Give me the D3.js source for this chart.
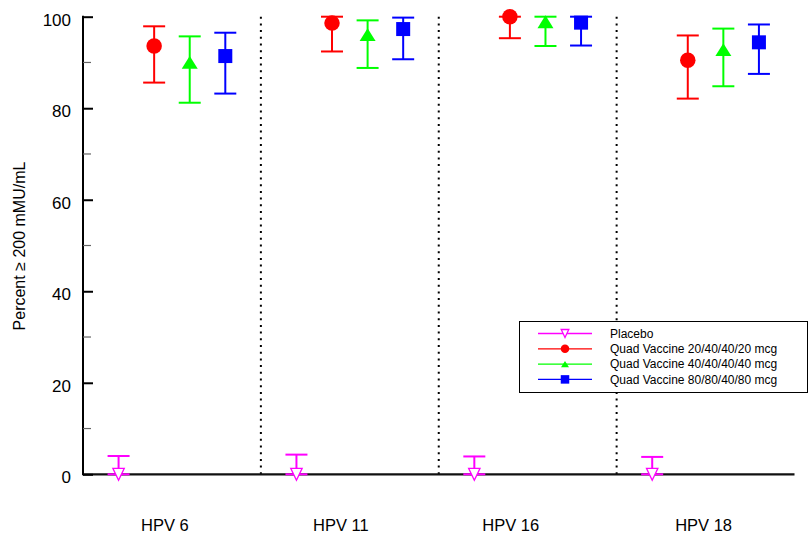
<!DOCTYPE html>
<html>
<head>
<meta charset="utf-8">
<script src="https://cdn.jsdelivr.net/npm/d3@7"></script>
<style>
  html, body { margin: 0; padding: 0; background: #fff; }
  svg { display: block; font-family: "Liberation Sans", Arial, sans-serif; }
</style>
</head>
<body>
<svg id="chart" width="810" height="535"></svg>
<script>
// ---- data ----
const categories = ["HPV 6", "HPV 11", "HPV 16", "HPV 18"];
const seriesNames = [
  "Placebo",
  "Quad Vaccine 20/40/40/20 mcg",
  "Quad Vaccine 40/40/40/40 mcg",
  "Quad Vaccine 80/80/40/80 mcg"
];
const placeboValue = [0, 0, 0, 0];
const placeboLower = [0, 0, 0, 0];
const placeboUpper = [4.0, 4.3, 3.9, 3.8];
const dose20Value = [93.6, 98.6, 100, 90.5];
const dose20Lower = [85.6, 92.4, 95.3, 82.1];
const dose20Upper = [97.9, 100, 100, 95.9];
const dose40Value = [90.0, 96.1, 98.9, 92.8];
const dose40Lower = [81.2, 88.8, 93.6, 84.8];
const dose40Upper = [95.7, 99.2, 100, 97.4];
const dose80Value = [91.4, 97.3, 98.7, 94.4];
const dose80Lower = [83.2, 90.7, 93.7, 87.5];
const dose80Upper = [96.5, 99.8, 100, 98.3];
const yMajorTicks = [0, 20, 40, 60, 80, 100];
const yMinorTicks = [10, 30, 50, 70, 90];
const yTitle = "Percent \u2265 200 mMU/mL";

// ---- styles ----
const colors = ["#ff00ff", "#ff0000", "#00ff00", "#0000ff"];
const shapes = ["triDown", "circle", "triUp", "square"];
const seriesData = [
  [placeboValue, placeboLower, placeboUpper],
  [dose20Value, dose20Lower, dose20Upper],
  [dose40Value, dose40Lower, dose40Upper],
  [dose80Value, dose80Lower, dose80Upper]
];
const labelNudge = [-7, -9, -17, -2];

const svg = d3.select("#chart");
const x = d3.scaleBand().domain(categories).range([83, 794.5]).padding(0);
const y = d3.scaleLinear().domain([0, 100]).range([474.3, 16.7]);
const bw = x.bandwidth();

function drawMarker(g, shape, cx, cy, size, color) {
  if (shape === "circle") {
    g.append("circle").attr("cx", cx).attr("cy", cy).attr("r", size / 2).attr("fill", color);
  } else if (shape === "square") {
    g.append("rect").attr("x", cx - size / 2).attr("y", cy - size / 2)
      .attr("width", size).attr("height", size).attr("fill", color);
  } else if (shape === "triUp") {
    const w = size, h = size * 0.8;
    g.append("path").attr("d", `M${cx},${cy - h / 2}L${cx + w / 2},${cy + h / 2}L${cx - w / 2},${cy + h / 2}Z`)
      .attr("fill", color);
  } else if (shape === "triDown") {
    const w = size * 0.95, h = size;
    g.append("path").attr("d", `M${cx - w / 2},${cy - h / 2}L${cx + w / 2},${cy - h / 2}L${cx},${cy + h / 2}Z`)
      .attr("fill", "#fff").attr("stroke", color).attr("stroke-width", 1.3);
  }
}

// separators (dotted)
const sepG = svg.append("g");
categories.slice(1).forEach(c => {
  sepG.append("line")
    .attr("x1", x(c)).attr("x2", x(c))
    .attr("y1", y(100)).attr("y2", y(0))
    .attr("stroke", "#000").attr("stroke-width", 2)
    .attr("stroke-dasharray", "2,4.7");
});

// x baseline
svg.append("line")
  .attr("x1", x.range()[0]).attr("x2", x.range()[1])
  .attr("y1", y(0)).attr("y2", y(0))
  .attr("stroke", "#111").attr("stroke-width", 2.2);

// y axis
const yAxis = d3.axisLeft(y).tickValues(yMajorTicks).tickSize(-10).tickPadding(12).tickFormat(d3.format("d"));
const yG = svg.append("g").attr("transform", `translate(${x.range()[0]},0)`).call(yAxis);
yG.select(".domain").remove();
yG.selectAll(".tick line").attr("stroke", "#000").attr("stroke-width", 2);
yG.selectAll(".tick text").attr("font-size", 17).attr("fill", "#000")
  .attr("font-family", "Liberation Sans, Arial, sans-serif").attr("dy", 8.5);
yG.append("line").attr("x1", 0).attr("x2", 0).attr("y1", y(100) - 1).attr("y2", y(0) + 1)
  .attr("stroke", "#000").attr("stroke-width", 2);
yMinorTicks.forEach(t => {
  yG.append("line").attr("x1", 0).attr("x2", 8).attr("y1", y(t)).attr("y2", y(t))
    .attr("stroke", "#666").attr("stroke-width", 1.2);
});

// y title
svg.append("text")
  .attr("transform", `translate(25,246) rotate(-90)`)
  .attr("text-anchor", "middle").attr("font-size", 16).attr("fill", "#000")
  .text(yTitle);

// x labels
categories.forEach((c, i) => {
  svg.append("text")
    .attr("x", x(c) + bw / 2 + labelNudge[i]).attr("y", 530.5)
    .attr("text-anchor", "middle").attr("font-size", 16.5).attr("fill", "#000")
    .text(c);
});

// series
const markerSizes = [12, 15.5, 16, 14];
seriesData.forEach((s, si) => {
  const [vals, lo, hi] = s;
  const g = svg.append("g");
  categories.forEach((c, ci) => {
    const cx = x(c) + bw * (si + 1) / 5;
    const capW = 22;
    g.append("line").attr("x1", cx).attr("x2", cx).attr("y1", y(lo[ci])).attr("y2", y(hi[ci]))
      .attr("stroke", colors[si]).attr("stroke-width", 2);
    [lo[ci], hi[ci]].forEach(v => {
      g.append("line").attr("x1", cx - capW / 2).attr("x2", cx + capW / 2)
        .attr("y1", y(v)).attr("y2", y(v))
        .attr("stroke", colors[si]).attr("stroke-width", 2);
    });
    drawMarker(g, shapes[si], cx, y(vals[ci]), markerSizes[si], colors[si]);
  });
});

// legend
const lg = svg.append("g");
lg.append("rect").attr("x", 519.5).attr("y", 321.5).attr("width", 288).attr("height", 71)
  .attr("fill", "#fff").attr("stroke", "#000").attr("stroke-width", 1);
const legendMarkerSizes = [8, 8.5, 8, 8.5];
seriesNames.forEach((name, i) => {
  const ly = 333.5 + i * 15.3;
  lg.append("line").attr("x1", 538).attr("x2", 592).attr("y1", ly).attr("y2", ly)
    .attr("stroke", colors[i]).attr("stroke-width", 1.3);
  drawMarker(lg, shapes[i], 565, ly, legendMarkerSizes[i], colors[i]);
  lg.append("text").attr("x", 610).attr("y", ly).attr("dy", "0.35em")
    .attr("font-size", 12).attr("fill", "#000").text(name);
});
</script>
</body>
</html>
